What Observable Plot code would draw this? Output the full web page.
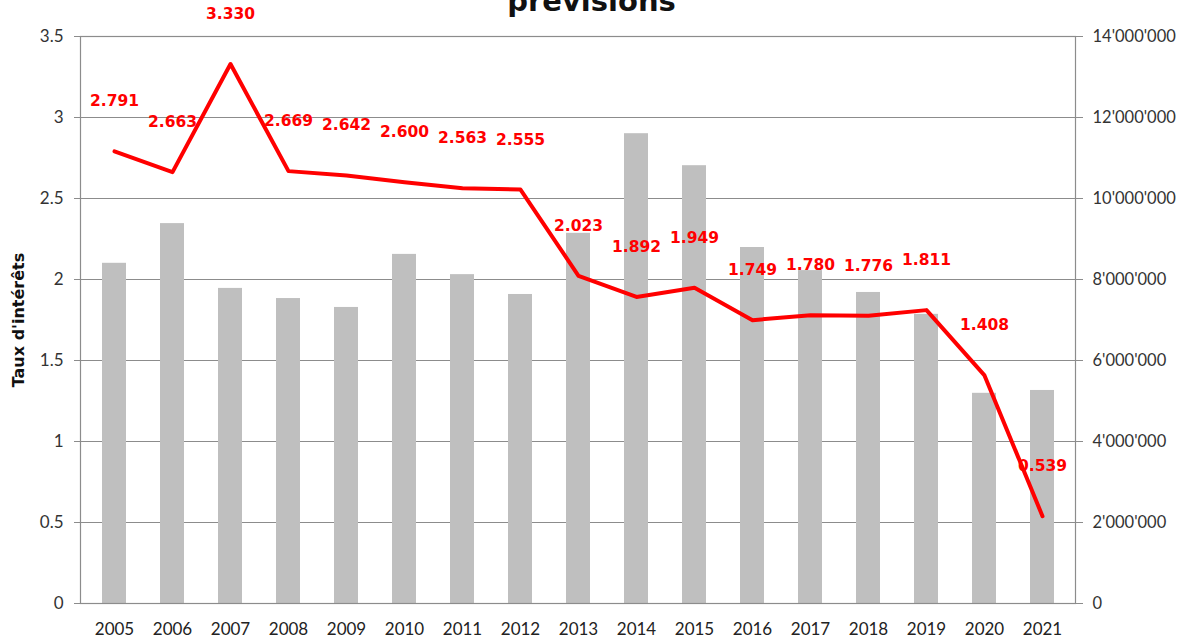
<!DOCTYPE html>
<html>
<head>
<meta charset="utf-8">
<script src="https://cdn.jsdelivr.net/npm/d3@7"></script>
<script src="https://cdn.jsdelivr.net/npm/@observablehq/plot@0.6"></script>
<style>
  html, body { margin: 0; padding: 0; background: #fff; }
  #wrap { position: relative; width: 1183px; height: 639px; overflow: hidden; }
  #title { position: absolute; top: -13px; left: 0; width: 1183px; text-align: center;
           font-family: "DejaVu Sans", sans-serif; font-weight: bold; font-size: 29px; line-height: 1; color: #111; }
  #chart { position: absolute; top: 0; left: 0; }
</style>
</head>
<body>
<div id="wrap">
  <div id="chart"></div>
  <div id="title">prévisions</div>
</div>
<script>
const years = ["2005","2006","2007","2008","2009","2010","2011","2012","2013","2014","2015","2016","2017","2018","2019","2020","2021"];
const volumes = [8400000, 9380000, 7780000, 7530000, 7310000, 8620000, 8120000, 7630000, 9140000, 11600000, 10810000, 8790000, 8220000, 7680000, 7140000, 5190000, 5260000];
const rates = [2.791, 2.663, 3.330, 2.669, 2.642, 2.600, 2.563, 2.555, 2.023, 1.892, 1.949, 1.749, 1.780, 1.776, 1.811, 1.408, 0.539];
const leftTicks = [0, 0.5, 1, 1.5, 2, 2.5, 3, 3.5];
const rightMax = 14000000;
const leftMax = 3.5;

const ratio = rightMax / leftMax;
const data = years.map((y, i) => ({year: y, volume: volumes[i], rate: rates[i]}));
const fmtRight = v => d3.format(",")(Math.round(v * ratio)).replace(/,/g, "'");

const chart = Plot.plot({
  width: 1183,
  height: 639,
  marginTop: 36,
  marginBottom: 36,
  marginLeft: 80,
  marginRight: 108,
  style: {fontFamily: "Lato, sans-serif", fontSize: "17px", color: "#333", background: "#fff"},
  x: {type: "band", domain: years, paddingInner: 0.59, paddingOuter: 0.295, align: 0.5, label: null},
  y: {domain: [0, leftMax], label: null},
  marks: [
    Plot.ruleY(leftTicks, {stroke: "#8c8c8c", strokeWidth: 1.2}),
    Plot.barY(data, {x: "year", y: d => d.volume / ratio, fill: "#bfbfbf"}),
    Plot.axisX({tickSize: 0, tickPadding: 19, fontSize: 17, fill: "#222"}),
    Plot.axisY({anchor: "left", ticks: leftTicks, tickFormat: d => String(d), tickSize: 6, tickPadding: 11, stroke: "#8c8c8c", fontSize: 17, fill: "#333", label: null}),
    Plot.axisY({anchor: "right", ticks: leftTicks, tickFormat: fmtRight, tickSize: 7, tickPadding: 10, stroke: "#8c8c8c", fontSize: 16.5, fill: "#333", label: null}),
    Plot.frame({stroke: "#8c8c8c", strokeWidth: 1.2}),
    Plot.lineY(data, {x: "year", y: "rate", stroke: "#ff0000", strokeWidth: 4, strokeLinejoin: "round"}),
    Plot.text(data, {x: "year", y: "rate", text: d => d.rate.toFixed(3), dy: -50, fill: "#ff0000", fontFamily: "DejaVu Sans, sans-serif", fontWeight: "bold", fontSize: 15.5}),
    Plot.text(["Taux d'intérêts"], {frameAnchor: "left", dx: -62, rotate: -90, textAnchor: "middle", fontFamily: "DejaVu Sans, sans-serif", fontWeight: "bold", fontSize: 16, fill: "#111"})
  ]
});
document.getElementById("chart").appendChild(chart);
</script>
</body>
</html>
